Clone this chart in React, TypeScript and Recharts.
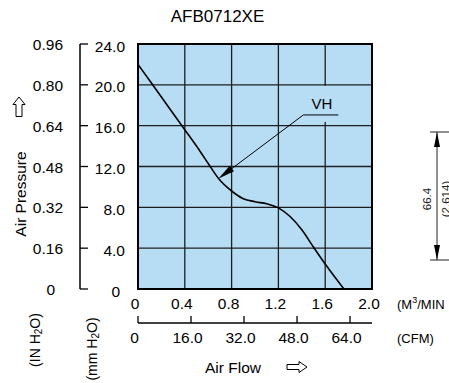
import React from 'react';
import {
  ComposedChart,
  Line,
  XAxis,
  YAxis,
  CartesianGrid,
  ReferenceArea,
  ReferenceLine,
} from 'recharts';

// P-Q curve of the fan
const flowM3 = [0, 0.2, 0.4, 0.53, 0.6, 0.69, 0.8, 0.9, 1.0, 1.1, 1.2, 1.3, 1.4, 1.5, 1.6, 1.7, 1.76];
const pressureMm = [22.0, 18.8, 15.6, 13.5, 12.3, 10.8, 9.6, 8.85, 8.55, 8.35, 7.95, 7.1, 5.8, 4.1, 2.45, 0.9, 0];

const m3Ticks = [0, 0.4, 0.8, 1.2, 1.6, 2.0];
const cfmTicks = [0, 16, 32, 48, 64];
const mmTicks = [0, 4, 8, 12, 16, 20, 24];
const inchTicks = [0, 0.16, 0.32, 0.48, 0.64, 0.8, 0.96];
const CFM_PER_M3 = 35.315;

// leader for the "VH" callout, in m3/min / mmH2O
const vhTip = { x: 0.686, y: 10.8 };
const vhElbow = { x: 1.413, y: 17.05 };
const vhEnd = { x: 1.712, y: 17.05 };

const data = flowM3.map((f, i) => ({ flow: f, cfm: f * CFM_PER_M3, mm: pressureMm[i] }));

// axis ids: recharts stacks same-side axes by id, "Inner" sits next to the plot
const X_M3 = 'xInner';
const X_CFM = 'xOuter';
const Y_MM = 'yInner';
const Y_IN = 'yOuter';

const font = '"Liberation Sans", Arial, Helvetica, sans-serif';
const bg = '#b7ddf4';
const fs = 15.5;

function InchTick({ x, y, payload }: any) {
  const v = payload.value as number;
  return (
    <text x={v === 0 ? x - 25 : x - 17} y={y + 6} textAnchor="end" fontSize={fs} fontFamily={font} fill="#000">
      {v === 0 ? '0' : v.toFixed(2)}
    </text>
  );
}

function MmTick({ x, y, payload }: any) {
  const v = payload.value as number;
  return (
    <g>
      <line x1={x - 58} y1={y} x2={x - 50} y2={y} stroke="#000" strokeWidth={1.3} />
      <text x={v === 0 ? x - 18 : x - 13} y={y + 7.5} textAnchor="end" fontSize={fs} fontFamily={font} fill="#000">
        {v === 0 ? '0' : v.toFixed(1)}
      </text>
    </g>
  );
}

function M3Tick({ x, y, payload }: any) {
  const v = payload.value as number;
  return (
    <text x={x - 3} y={y + 19.5} textAnchor="middle" fontSize={fs} fontFamily={font} fill="#000">
      {v === 0 ? '0' : v.toFixed(1)}
    </text>
  );
}

function CfmTick({ x, y, payload }: any) {
  const v = payload.value as number;
  return (
    <g>
      <line x1={x} y1={y} x2={x} y2={y - 7} stroke="#000" strokeWidth={1.3} />
      <text x={x - 3.5} y={y + 20} textAnchor="middle" fontSize={fs} fontFamily={font} fill="#000">
        {v === 0 ? '0' : v.toFixed(1)}
      </text>
    </g>
  );
}

function ArrowLeader(props: any) {
  const { x1, y1, x2, y2 } = props;
  const dx = x2 - x1;
  const dy = y2 - y1;
  const len = Math.sqrt(dx * dx + dy * dy);
  const ux = dx / len;
  const uy = dy / len;
  const bx = x2 - ux * 17;
  const by = y2 - uy * 17;
  const px = -uy * 3.5;
  const py = ux * 3.5;
  return (
    <g>
      <line x1={x1} y1={y1} x2={bx} y2={by} stroke="#000" strokeWidth={1} />
      <polygon points={`${x2},${y2} ${bx + px},${by + py} ${bx - px},${by - py}`} fill="#000" />
    </g>
  );
}

function VhLeader(props: any) {
  const { x1, y1, x2 } = props;
  return (
    <g>
      <rect x={x1 + 17} y={y1 - 29} width={12} height={36} fill={bg} />
      <line x1={x1} y1={y1} x2={x2} y2={y1} stroke="#000" strokeWidth={1} />
      <text x={(x1 + x2) / 2 + 1} y={y1 - 6} textAnchor="middle" fontSize={15} fontFamily={font} fill="#000">
        VH
      </text>
    </g>
  );
}

export default function App() {
  return (
    <div style={{ position: 'absolute', left: 0, top: 0, width: 449, height: 383, background: '#fff' }}>
      <ComposedChart
        width={449}
        height={383}
        data={data}
        margin={{ top: 44, right: 77, bottom: 0, left: 0 }}
      >
        <CartesianGrid
          xAxisId={X_M3}
          yAxisId={Y_MM}
          fill={bg}
          fillOpacity={1}
          stroke="#1e1e1e"
          strokeWidth={1.3}
        />
        <XAxis
          xAxisId={X_M3}
          dataKey="flow"
          type="number"
          domain={[0, 2]}
          ticks={m3Ticks}
          interval={0}
          height={34}
          axisLine={false}
          tickLine={false}
          tickSize={0}
          tickMargin={0}
          tick={<M3Tick />}
          allowDataOverflow
        />
        <XAxis
          xAxisId={X_CFM}
          dataKey="cfm"
          type="number"
          domain={[0, 2 * CFM_PER_M3]}
          ticks={cfmTicks}
          interval={0}
          height={60}
          axisLine={{ stroke: '#000', strokeWidth: 1.3 }}
          tickLine={false}
          tickSize={0}
          tickMargin={0}
          tick={<CfmTick />}
          allowDataOverflow
        />
        <YAxis
          yAxisId={Y_MM}
          type="number"
          domain={[0, 24]}
          ticks={mmTicks}
          interval={0}
          width={58}
          axisLine={false}
          tickLine={false}
          tickSize={0}
          tickMargin={0}
          tick={<MmTick />}
          allowDataOverflow
        />
        <YAxis
          yAxisId={Y_IN}
          type="number"
          domain={[0, 0.96]}
          ticks={inchTicks}
          interval={0}
          width={80}
          axisLine={{ stroke: '#000', strokeWidth: 1.5 }}
          tickLine={false}
          tickSize={0}
          tickMargin={0}
          tick={<InchTick />}
          allowDataOverflow
        />
        <ReferenceArea
          xAxisId={X_M3}
          yAxisId={Y_MM}
          x1={0}
          x2={2}
          y1={0}
          y2={24}
          fill="none"
          stroke="#000"
          strokeWidth={2}
          ifOverflow="visible"
        />
        <Line
          xAxisId={X_M3}
          yAxisId={Y_MM}
          type="monotone"
          dataKey="mm"
          stroke="#000"
          strokeWidth={1.6}
          dot={false}
          isAnimationActive={false}
        />
        <ReferenceLine
          xAxisId={X_M3}
          yAxisId={Y_MM}
          segment={[vhElbow, vhTip]}
          shape={(p: any) => <ArrowLeader {...p} />}
          ifOverflow="visible"
        />
        <ReferenceLine
          xAxisId={X_M3}
          yAxisId={Y_MM}
          segment={[vhElbow, vhEnd]}
          shape={(p: any) => <VhLeader {...p} />}
          ifOverflow="visible"
        />
      </ComposedChart>

      <svg
        width={449}
        height={383}
        style={{ position: 'absolute', left: 0, top: 0, pointerEvents: 'none' }}
        fontFamily={font}
      >
        <text x={217.5} y={22} textAnchor="middle" fontSize={17}>AFB0712XE</text>

        {/* pressure axis titles */}
        <polygon points="19,97 25,104.5 22,104.5 22,116.5 16,116.5 16,104.5 13,104.5" fill="none" stroke="#000" strokeWidth={1} />
        <text x={20} y={194} textAnchor="middle" dominantBaseline="central" fontSize={15.5} transform="rotate(-90 20 194)">
          Air Pressure
        </text>
        <text x={35} y={340} textAnchor="middle" dominantBaseline="central" fontSize={14} transform="rotate(-90 35 340)">
          (IN H<tspan fontSize={10} dy={3}>2</tspan><tspan dy={-3}>O)</tspan>
        </text>
        <text x={91.5} y={349} textAnchor="middle" dominantBaseline="central" fontSize={14} transform="rotate(-90 91.5 349)">
          (mm H<tspan fontSize={10} dy={3}>2</tspan><tspan dy={-3}>O)</tspan>
        </text>

        {/* flow axis titles */}
        <text x={397} y={308.5} fontSize={13}>
          (M<tspan fontSize={9} dy={-6}>3</tspan><tspan dy={6}>/MIN</tspan>
        </text>
        <text x={397} y={343} fontSize={13}>(CFM)</text>
        <text x={205} y={373} fontSize={15.5}>Air Flow</text>
        <polygon points="287,364.5 299,364.5 299,361.5 307,367 299,372.5 299,369.5 287,369.5" fill="none" stroke="#000" strokeWidth={1} />

        {/* dimension mark at the right edge */}
        <line x1={430} y1={132} x2={449} y2={132} stroke="#222" strokeWidth={1} />
        <line x1={430} y1={260} x2={449} y2={260} stroke="#222" strokeWidth={1} />
        <line x1={437} y1={132} x2={437} y2={260} stroke="#222" strokeWidth={1} />
        <polygon points="437,132 434,147 440,147" fill="#000" />
        <polygon points="437,260 434,245 440,245" fill="#000" />
        <text x={427} y={199} textAnchor="middle" dominantBaseline="central" fontSize={11.5} fill="#222" transform="rotate(-90 427 199)">
          66.4
        </text>
        <text x={446} y={199} textAnchor="middle" dominantBaseline="central" fontSize={11.5} fill="#222" transform="rotate(-90 446 199)">
          (2.614)
        </text>
      </svg>
    </div>
  );
}
